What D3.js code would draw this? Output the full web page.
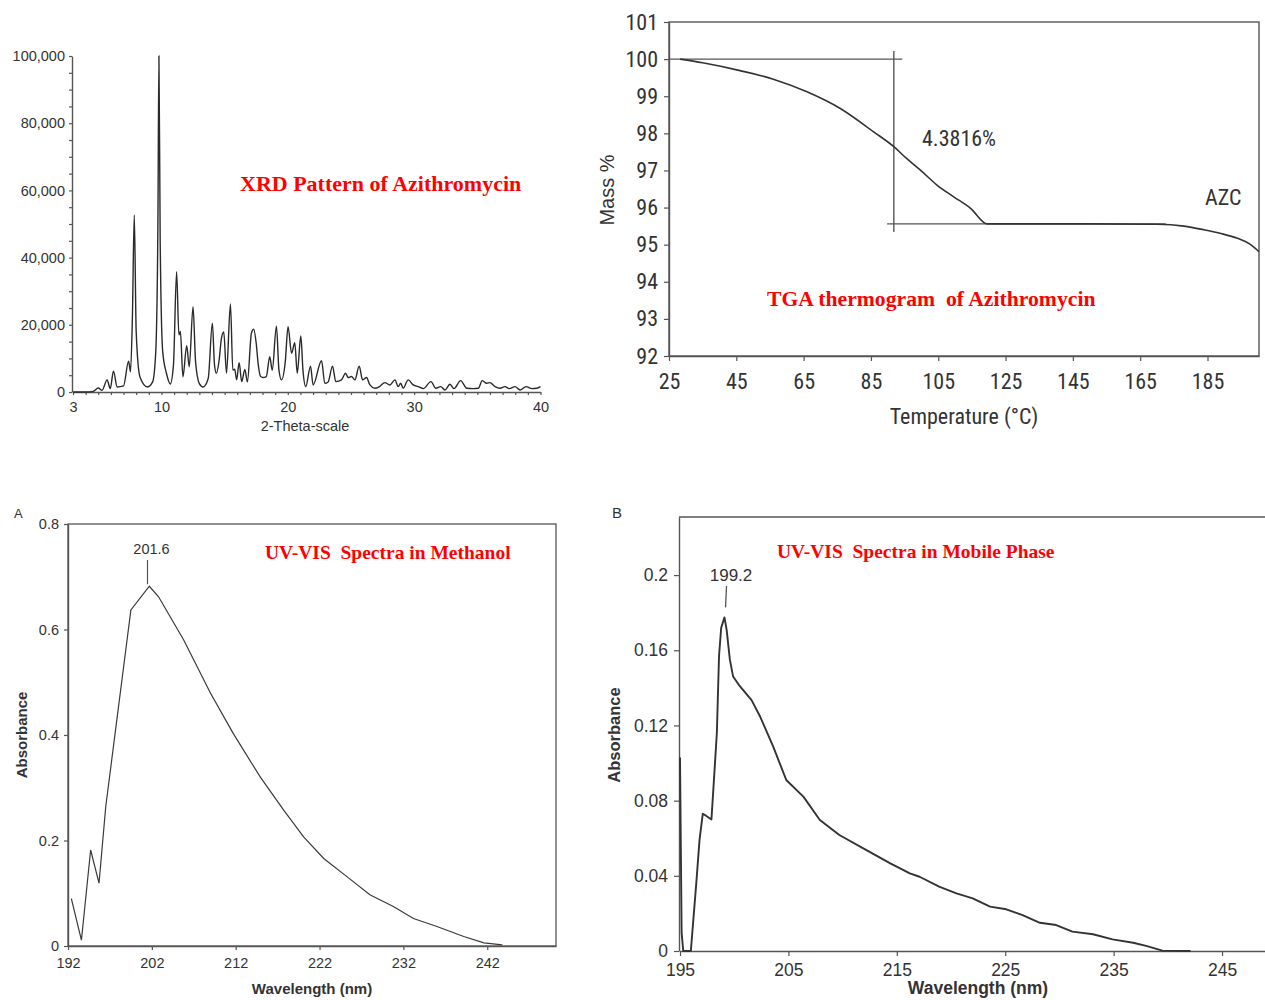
<!DOCTYPE html>
<html><head><meta charset="utf-8">
<script src="https://cdn.jsdelivr.net/npm/d3@7"></script>
<style>body{margin:0;background:#fff} svg{display:block} .pre{white-space:pre}</style>
</head><body><svg id="c" width="1265" height="1000"></svg>
<script>
// ---------- XRD pattern ----------
const xrdTheta = [3.0,4.0,4.6,5.0,5.3,5.7,5.95,6.2,6.5,7.0,7.4,7.55,7.7,7.85,8.0,8.3,8.9,9.3,9.55,9.72,9.8,9.9,10.1,10.4,10.7,10.95,11.2,11.38,11.5,11.7,12.0,12.2,12.5,12.7,13.0,13.3,13.7,14.03,14.2,14.35,14.55,14.75,14.93,15.15,15.46,15.65,15.8,15.95,16.15,16.35,16.6,16.8,17.12,17.3,17.5,17.65,17.85,18.05,18.3,18.57,18.77,19.1,19.3,19.5,19.8,20.02,20.3,20.55,20.75,21.03,21.2,21.42,21.8,22.0,22.67,22.93,23.19,23.54,23.8,24.25,24.57,24.78,25.04,25.31,25.65,25.92,26.23,26.5,26.9,27.25,27.68,28.08,28.48,28.74,28.93,29.13,29.53,29.93,30.32,30.72,31.33,31.72,32.1,32.44,32.83,33.15,33.68,34.16,34.68,35.08,35.39,35.74,36.0,36.4,36.8,37.19,37.53,37.98,38.38,38.86,39.31,39.7,40.0];
const xrdCounts = [0,0,200,1200,500,3600,1000,6200,1500,1800,9200,6000,22000,52700,18000,4500,1500,3000,12000,50000,100000,45000,12000,5500,2400,8000,35800,17000,18000,4500,13800,7500,25400,9000,2500,1500,4000,20500,8000,5600,9000,16000,17900,5600,26200,6500,6800,3600,8700,3100,6700,3000,17500,18700,14500,8500,4600,4300,4600,10500,6500,19600,6500,3600,9000,19400,11500,14700,5600,16700,6500,1600,7700,2100,9300,2600,3000,7700,3100,3600,5600,4300,4600,3600,7700,3600,4300,2100,1100,1600,2800,2100,3600,1600,2600,1100,3600,2100,1600,1000,3100,1100,1600,600,2300,1000,3400,1100,1000,1100,3400,2600,2800,1600,1100,1600,1000,1600,600,1600,1000,1100,1600];
const xrdXTicks = [3,10,20,30,40];
const xrdYTicks = [0,20000,40000,60000,80000,100000];

// ---------- TGA thermogram ----------
const tgaTemp = [28.3,35,46.1,56.0,66.0,75.9,85.8,91.8,95.5,99.7,104.7,109.6,114.6,119.6,130,150,170,178,184,189,193.9,197.5,200.3];
const tgaMass = [100.0,99.9,99.69,99.46,99.12,98.67,98.04,97.64,97.33,97.01,96.6,96.29,95.98,95.56,95.56,95.56,95.55,95.5,95.4,95.3,95.17,95.02,94.81];
const tgaXTicks = [25,45,65,85,105,125,145,165,185];
const tgaYTicks = [92,93,94,95,96,97,98,99,100,101];
const tgaTopLine = {m:100, t0:25, t1:94.3};
const tgaVLine = {t:91.8, m0:100.22, m1:95.34};
const tgaBotLine = {m:95.56, t0:89.8, t1:172.6};

// ---------- UV-VIS in methanol (A) ----------
const uvAWave = [192.4,193.6,194.7,195.7,196.5,199.5,201.7,202.8,205.8,209.0,211.7,214.9,217.7,220.1,222.5,225.3,228.0,230.8,233.2,236.0,239.2,241.6,243.8];
const uvAAbs  = [0.090,0.011,0.182,0.119,0.264,0.637,0.682,0.662,0.580,0.479,0.403,0.321,0.258,0.207,0.166,0.131,0.097,0.075,0.052,0.037,0.018,0.006,0.002];
const uvAXTicks = [192,202,212,222,232,242];
const uvAYTicks = [0,0.2,0.4,0.6,0.8];
const uvAPeak = {w:201.6, a:0.682};

// ---------- UV-VIS in mobile phase (B) ----------
const uvBWave = [195.0,195.15,195.3,196.0,196.5,196.8,197.1,197.4,197.9,198.0,198.4,198.6,198.8,199.1,199.3,199.6,199.9,200.5,201.6,202.4,203.6,204.8,206.4,207.9,209.7,212.2,214.4,216.2,217.1,218.9,220.5,222.0,223.6,225.1,226.6,228.2,229.7,231.2,233.1,234.9,236.8,238.0,239.5,242.1];
const uvBAbs  = [0.103,0.0096,0.0,0.0,0.036,0.059,0.073,0.072,0.070,0.079,0.116,0.157,0.172,0.1775,0.171,0.155,0.146,0.141,0.1335,0.1246,0.1087,0.091,0.082,0.0697,0.0617,0.0537,0.0466,0.0413,0.0395,0.0342,0.0307,0.028,0.0236,0.0222,0.0191,0.015,0.0138,0.0103,0.0089,0.0062,0.0044,0.0027,0.0002,0.0];
const uvBXTicks = [195,205,215,225,235,245];
const uvBYTicks = [0,0.04,0.08,0.12,0.16,0.2];
const uvBPeak = {w:199.2, a:0.1775};

const svg = d3.select("#c");
const AX = "#555", TX = "#333";
const SANS = "'Liberation Sans', Arial, sans-serif";
const NARROW = "'Liberation Sans Narrow', 'Arial Narrow', 'Roboto Condensed', sans-serif";
const SERIF = "'Liberation Serif', 'Times New Roman', serif";

function styleAxis(g, size, family, color) {
  g.selectAll("path.domain").attr("stroke", AX).attr("stroke-width", 1.4);
  g.selectAll(".tick line").attr("stroke", AX).attr("stroke-width", 1.2);
  g.selectAll(".tick text").attr("fill", color || TX).style("font-size", size + "px").style("font-family", family);
}

// ================= XRD =================
{
  const x = d3.scaleLinear([3, 40], [73, 540.5]);
  const y = d3.scaleLinear([0, 100000], [392, 56]);
  const g = svg.append("g");
  const gx = g.append("g").attr("transform", "translate(0,392)")
    .call(d3.axisBottom(x).tickValues(d3.range(3, 41)).tickSize(3).tickSizeOuter(0)
      .tickFormat(d => xrdXTicks.includes(d) ? d : ""));
  styleAxis(gx, 14.5, SANS);
  gx.selectAll(".tick text").attr("dy", "0.95em");
  const gy = g.append("g").attr("transform", "translate(72,0)")
    .call(d3.axisLeft(y).tickValues(d3.range(0, 100001, 5000)).tickSize(3).tickSizeOuter(0)
      .tickFormat(d => xrdYTicks.includes(d) ? d3.format(",")(d) : ""));
  styleAxis(gy, 14.5, SANS);
  gy.selectAll(".tick text").attr("x", -7);
  const pts = xrdTheta.map((t, i) => [t, xrdCounts[i]]);
  g.append("path").datum(pts)
    .attr("d", d3.line().x(d => x(d[0])).y(d => y(d[1])).curve(d3.curveMonotoneX))
    .attr("fill", "none").attr("stroke", "#2a2a2a").attr("stroke-width", 1.4);
  g.append("text").attr("x", 305).attr("y", 431).attr("text-anchor", "middle")
    .style("font-family", SANS).style("font-size", "14.5px").attr("fill", TX).text("2-Theta-scale");
  g.append("text").attr("x", 240).attr("y", 191)
    .style("font-family", SERIF).style("font-weight", "bold").style("font-size", "22px")
    .attr("fill", "#ff0000").text("XRD Pattern of Azithromycin");
}

// ================= TGA =================
{
  const x = d3.scaleLinear([25, 200.3], [669, 1259]);
  const y = d3.scaleLinear([92, 101], [356, 22]);
  const g = svg.append("g");
  g.append("rect").attr("x", 669).attr("y", 22).attr("width", 590).attr("height", 334)
    .attr("fill", "none").attr("stroke", AX).attr("stroke-width", 1.4);
  const gx = g.append("g").attr("transform", "translate(0,356)")
    .call(d3.axisBottom(x).tickValues(tgaXTicks).tickSize(5).tickSizeOuter(0));
  styleAxis(gx, 22, NARROW);
  gx.selectAll(".tick text").attr("y", 14).attr("dy", "0.85em");
  const gy = g.append("g").attr("transform", "translate(669,0)")
    .call(d3.axisLeft(y).tickValues(tgaYTicks).tickSize(5).tickSizeOuter(0));
  styleAxis(gy, 22, NARROW);
  gy.selectAll(".tick text").attr("x", -11);
  const ln = (x1, y1, x2, y2) => g.append("line").attr("x1", x1).attr("y1", y1).attr("x2", x2).attr("y2", y2)
    .attr("stroke", AX).attr("stroke-width", 1.4);
  ln(x(tgaTopLine.t0), y(tgaTopLine.m), x(tgaTopLine.t1), y(tgaTopLine.m));
  ln(x(tgaVLine.t), y(tgaVLine.m0), x(tgaVLine.t), y(tgaVLine.m1));
  ln(x(tgaBotLine.t0), y(tgaBotLine.m), x(tgaBotLine.t1), y(tgaBotLine.m));
  const pts = tgaTemp.map((t, i) => [t, tgaMass[i]]);
  g.append("path").datum(pts)
    .attr("d", d3.line().x(d => x(d[0])).y(d => y(d[1])).curve(d3.curveMonotoneX))
    .attr("fill", "none").attr("stroke", "#333").attr("stroke-width", 1.6);
  g.append("text").attr("x", 922).attr("y", 146).style("font-family", NARROW).style("font-size", "22px")
    .attr("fill", TX).text("4.3816%");
  g.append("text").attr("x", 1205).attr("y", 205).style("font-family", NARROW).style("font-size", "22px")
    .attr("fill", TX).text("AZC");
  g.append("text").attr("transform", "translate(614,190) rotate(-90)").attr("text-anchor", "middle")
    .style("font-family", SANS).style("font-size", "20px").attr("fill", TX).text("Mass %");
  g.append("text").attr("x", 964).attr("y", 424).attr("text-anchor", "middle")
    .style("font-family", NARROW).style("font-size", "22px").attr("fill", TX).text("Temperature (°C)");
  g.append("text").attr("x", 767).attr("y", 306).attr("class", "pre")
    .style("font-family", SERIF).style("font-weight", "bold").style("font-size", "21.7px")
    .attr("fill", "#ff0000").text("TGA thermogram  of Azithromycin");
}

// ================= UV A =================
{
  const x = d3.scaleLinear([192, 250.2], [68, 556]);
  const y = d3.scaleLinear([0, 0.8], [946, 524]);
  const g = svg.append("g");
  g.append("rect").attr("x", 68).attr("y", 524).attr("width", 488).attr("height", 422)
    .attr("fill", "none").attr("stroke", AX).attr("stroke-width", 1.3);
  const gx = g.append("g").attr("transform", "translate(0,946)")
    .call(d3.axisBottom(x).tickValues(uvAXTicks).tickSize(4).tickSizeOuter(0));
  styleAxis(gx, 14.5, SANS);
  gx.selectAll(".tick text").attr("y", 9).attr("dy", "0.9em");
  const gy = g.append("g").attr("transform", "translate(68,0)")
    .call(d3.axisLeft(y).tickValues(uvAYTicks).tickSize(4).tickSizeOuter(0).tickFormat(d => d === 0 ? "0" : d3.format(".1f")(d)));
  styleAxis(gy, 14.5, SANS);
  gy.selectAll(".tick text").attr("x", -9);
  const pts = uvAWave.map((w, i) => [w, uvAAbs[i]]);
  g.append("path").datum(pts)
    .attr("d", d3.line().x(d => x(d[0])).y(d => y(d[1])))
    .attr("fill", "none").attr("stroke", "#3a3a3a").attr("stroke-width", 1.2);
  g.append("line").attr("x1", x(uvAPeak.w) - 1).attr("x2", x(uvAPeak.w) - 1)
    .attr("y1", 560).attr("y2", y(uvAPeak.a) - 2).attr("stroke", "#555").attr("stroke-width", 1.2);
  g.append("text").attr("x", x(uvAPeak.w) + 3).attr("y", 554).attr("text-anchor", "middle")
    .style("font-family", SANS).style("font-size", "14.5px").attr("fill", TX).text(uvAPeak.w.toFixed(1));
  g.append("text").attr("x", 14).attr("y", 518).style("font-family", SANS).style("font-size", "13px")
    .attr("fill", TX).text("A");
  g.append("text").attr("transform", "translate(27,735) rotate(-90)").attr("text-anchor", "middle")
    .style("font-family", SANS).style("font-weight", "bold").style("font-size", "15px").attr("fill", TX).text("Absorbance");
  g.append("text").attr("x", 312).attr("y", 994).attr("text-anchor", "middle")
    .style("font-family", SANS).style("font-weight", "bold").style("font-size", "15px").attr("fill", TX).text("Wavelength (nm)");
  g.append("text").attr("x", 265).attr("y", 559).attr("class", "pre")
    .style("font-family", SERIF).style("font-weight", "bold").style("font-size", "19.5px")
    .attr("fill", "#ff0000").text("UV-VIS  Spectra in Methanol");
}

// ================= UV B =================
{
  const x = d3.scaleLinear([195, 249], [680, 1265.4]);
  const y = d3.scaleLinear([0, 0.2309], [951, 517]);
  const g = svg.append("g");
  g.append("line").attr("x1", 679).attr("y1", 517).attr("x2", 1265).attr("y2", 517)
    .attr("stroke", AX).attr("stroke-width", 1.4);
  const gx = g.append("g").attr("transform", "translate(0,951)")
    .call(d3.axisBottom(x).tickValues(uvBXTicks).tickSize(5).tickSizeOuter(0));
  styleAxis(gx, 17.5, SANS);
  gx.selectAll(".tick text").attr("y", 9).attr("dy", "0.9em");
  const gy = g.append("g").attr("transform", "translate(679,0)")
    .call(d3.axisLeft(y).tickValues(uvBYTicks).tickSize(5).tickSizeOuter(0).tickFormat(d => d === 0 ? "0" : String(+d.toFixed(2))));
  styleAxis(gy, 17.5, SANS);
  gy.selectAll(".tick text").attr("x", -11);
  const pts = uvBWave.map((w, i) => [w, uvBAbs[i]]);
  g.append("path").datum(pts)
    .attr("d", d3.line().x(d => x(d[0])).y(d => y(d[1])))
    .attr("fill", "none").attr("stroke", "#333").attr("stroke-width", 1.9).attr("stroke-linejoin", "round");
  g.append("line").attr("x1", x(uvBPeak.w) + 1).attr("x2", x(uvBPeak.w))
    .attr("y1", 586).attr("y2", y(uvBPeak.a) - 10).attr("stroke", "#555").attr("stroke-width", 1.3);
  g.append("text").attr("x", 731).attr("y", 581).attr("text-anchor", "middle")
    .style("font-family", SANS).style("font-size", "17px").attr("fill", TX).text(uvBPeak.w.toFixed(1));
  g.append("text").attr("x", 612).attr("y", 518).style("font-family", SANS).style("font-size", "15px")
    .attr("fill", TX).text("B");
  g.append("text").attr("transform", "translate(620,735) rotate(-90)").attr("text-anchor", "middle")
    .style("font-family", SANS).style("font-weight", "bold").style("font-size", "16.5px").attr("fill", TX).text("Absorbance");
  g.append("text").attr("x", 978).attr("y", 994).attr("text-anchor", "middle")
    .style("font-family", SANS).style("font-weight", "bold").style("font-size", "17.5px").attr("fill", TX).text("Wavelength (nm)");
  g.append("text").attr("x", 777).attr("y", 558).attr("class", "pre")
    .style("font-family", SERIF).style("font-weight", "bold").style("font-size", "19.5px")
    .attr("fill", "#ff0000").text("UV-VIS  Spectra in Mobile Phase");
}
</script></body></html>
